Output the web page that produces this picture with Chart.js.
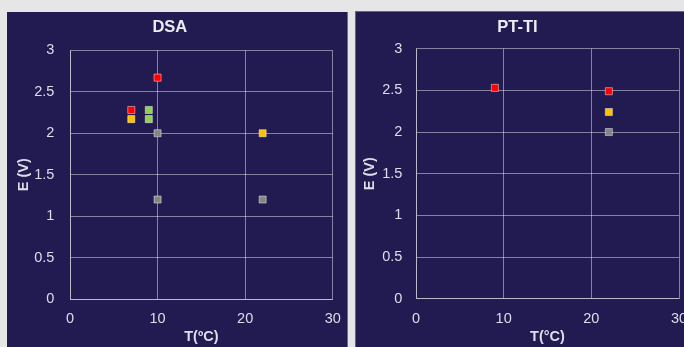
<!DOCTYPE html>
<html>
<head>
<meta charset="utf-8">
<script src="https://cdn.jsdelivr.net/npm/chart.js@4/dist/chart.umd.min.js"></script>
<style>
  html, body { margin: 0; padding: 0; background: #e6e6e6; width: 684px; height: 347px; overflow: hidden; }
  .panel { position: absolute; background: #211b52; }
  #pLeft { left: 7px; top: 12px; width: 340px; height: 335px; border-right: 1px solid #6a6a98; }
  #pRight { left: 355px; top: 11px; width: 340px; height: 336px; border-left: 1px solid #5566aa; border-top: 1px solid #5566aa; }
  canvas { display: block; }
</style>
</head>
<body>
<div class="panel" id="pLeft"><canvas id="cLeft" width="340" height="335"></canvas></div>
<div class="panel" id="pRight"><canvas id="cRight" width="340" height="336"></canvas></div>
<script>
// Axis ticks shared by both panels
const tempTicks = [0, 10, 20, 30];
const voltTicks = [0, 0.5, 1, 1.5, 2, 2.5, 3];

// DSA electrode: [T (ºC), E (V)]
const dsaRed    = [[7, 2.28], [10, 2.67]];
const dsaYellow = [[7, 2.17], [22, 2.0]];
const dsaGreen  = [[9, 2.28], [9, 2.17]];
const dsaGray   = [[10, 2.0], [10, 1.2], [22, 1.2]];

// PT-TI electrode: [T (°C), E (V)]
const ptRed    = [[9, 2.53], [22, 2.49]];
const ptYellow = [[22, 2.24]];
const ptGray   = [[22, 2.0]];

const COLORS = { red: '#ff0000', yellow: '#ffc000', green: '#92d050', gray: '#858585' };
const FONT = '"Liberation Sans", Arial, sans-serif';
const TEXT = '#dedeea';
const GRID = 'rgba(255,255,255,0.45)';

function series(points, color) {
  return {
    data: points.map(p => ({ x: p[0], y: p[1] })),
    backgroundColor: color,
    borderColor: 'rgba(255,255,255,0.45)',
    borderWidth: 1,
    pointStyle: 'rect',
    pointRadius: 5,
    pointHoverRadius: 5
  };
}

function makeChart(id, title, xTitle, sets, g) {
  new Chart(document.getElementById(id), {
    type: 'scatter',
    data: { datasets: sets },
    options: {
      responsive: false,
      devicePixelRatio: 1,
      animation: false,
      layout: { padding: { left: 0, right: g.padRight, top: 0, bottom: 0 } },
      plugins: {
        legend: { display: false },
        tooltip: { enabled: false },
        title: {
          display: true,
          text: title,
          color: '#ececf4',
          font: { family: FONT, size: 16.5, weight: 'bold' },
          padding: { top: g.titleTop, bottom: g.titleBottom }
        }
      },
      scales: {
        x: {
          type: 'linear',
          min: 0, max: 30,
          afterBuildTicks: s => { s.ticks = tempTicks.map(v => ({ value: v })); },
          afterFit: s => { s.height = g.xHeight; s.paddingLeft = 0; s.paddingRight = 0; },
          grid: { color: GRID, lineWidth: 1, drawTicks: false },
          border: { color: GRID },
          ticks: { color: TEXT, font: { family: FONT, size: 14.5 }, padding: g.xTickPad, maxRotation: 0 },
          title: {
            display: true, text: xTitle, color: TEXT,
            font: { family: FONT, size: 14.5, weight: 'bold' },
            padding: { top: 0, bottom: g.xTitlePad }
          }
        },
        y: {
          type: 'linear',
          min: 0, max: 3,
          afterBuildTicks: s => { s.ticks = voltTicks.map(v => ({ value: v })); },
          afterFit: s => { s.width = g.yWidth; },
          grid: { color: GRID, lineWidth: 1, drawTicks: false },
          border: { color: GRID },
          ticks: {
            color: TEXT, font: { family: FONT, size: 14.5 }, padding: g.yTickPad,
            callback: v => String(v)
          },
          title: {
            display: true, text: 'E (V)', color: TEXT,
            font: { family: FONT, size: 14.5, weight: 'bold' },
            padding: { top: g.yTitlePad, bottom: 0 }
          }
        }
      }
    }
  });
}

makeChart('cLeft', 'DSA', 'T(ºC)', [
  series(dsaRed, COLORS.red),
  series(dsaYellow, COLORS.yellow),
  series(dsaGreen, COLORS.green),
  series(dsaGray, COLORS.gray)
], { padRight: 14.3, titleTop: 6, titleBottom: 12.5, xHeight: 48, xTickPad: 11, xTitlePad: 1, yWidth: 63, yTickPad: 15.7, yTitlePad: 7.8 });

makeChart('cRight', 'PT-TI', 'T(°C)', [
  series(ptRed, COLORS.red),
  series(ptYellow, COLORS.yellow),
  series(ptGray, COLORS.gray)
], { padRight: 17, titleTop: 5.1, titleBottom: 11.8, xHeight: 49.3, xTickPad: 11.5, xTitlePad: 2.8, yWidth: 60, yTickPad: 13.7, yTitlePad: 5.3 });
</script>
</body>
</html>
